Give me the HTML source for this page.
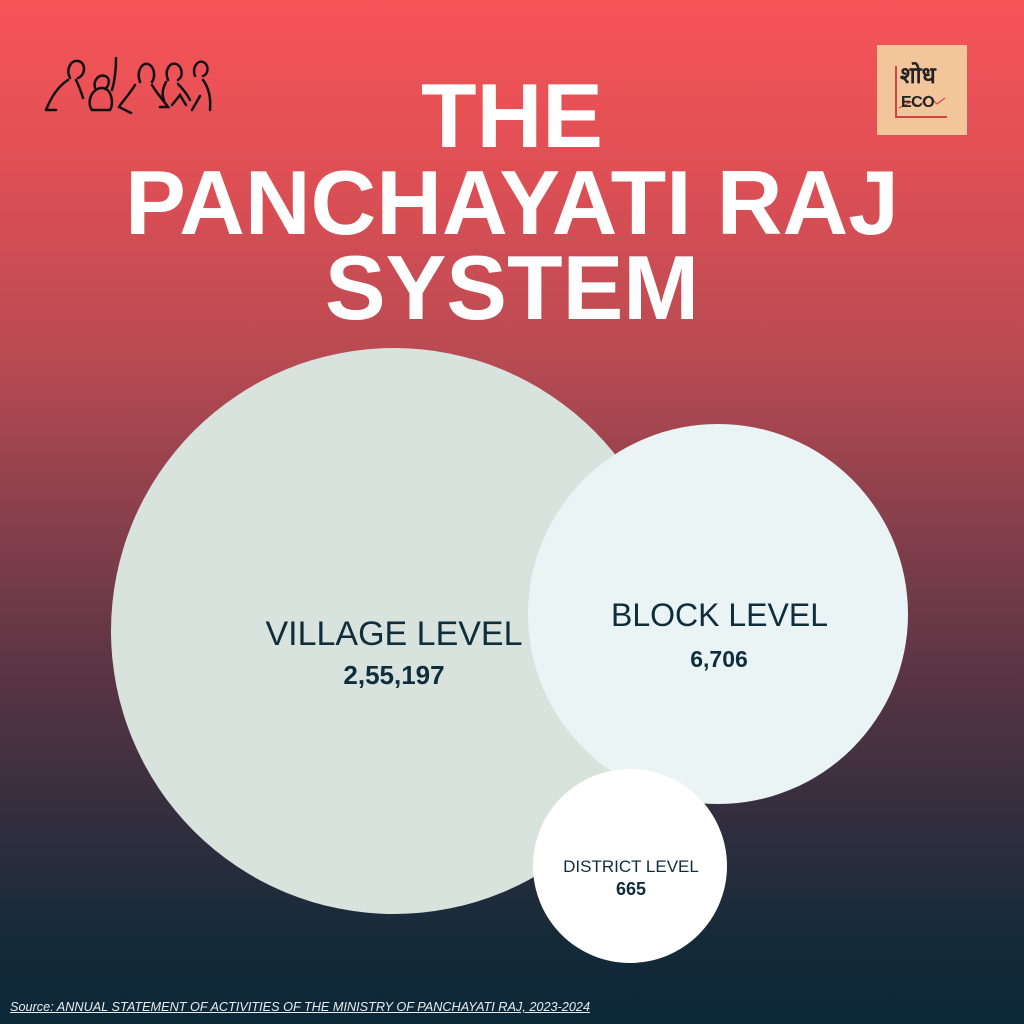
<!DOCTYPE html>
<html><head><meta charset="utf-8"><style>
html,body{margin:0;padding:0}
body{width:1024px;height:1024px;position:relative;overflow:hidden;font-family:"Liberation Sans",sans-serif;
background:linear-gradient(180deg,#f75458 0%,#dc4f55 18%,#b94a52 35%,#8a404c 50%,#5c3544 65%,#322e3e 80%,#142a38 92%,#0c2838 100%);}
.t{position:absolute;left:0;width:1024px;text-align:center;color:#fff;font-weight:bold;font-size:91px;line-height:1;letter-spacing:0}
.c{position:absolute;border-radius:50%}
.l{position:absolute;text-align:center;color:#0f2d3a;white-space:nowrap}
</style></head><body>
<div class="t" style="top:71px">THE</div>
<div class="t" style="top:158px">PANCHAYATI RAJ</div>
<div class="t" style="top:243px">SYSTEM</div>

<div style="position:absolute;left:877px;top:45px;width:90px;height:90px;background:#f3c59b"></div>
<div style="position:absolute;left:895px;top:66px;width:2px;height:51px;background:#c44"></div>
<div style="position:absolute;left:895px;top:116px;width:52px;height:2px;background:#c44"></div>
<svg style="position:absolute;left:897px;top:92px" width="50" height="20"><path d="M2 16 L14 10 L22 14 L32 4 L40 12 L48 6" stroke="#d44" stroke-width="1.2" fill="none"/></svg>
<div style="position:absolute;left:900px;top:60px;font-family:'Noto Sans CJK SC',sans-serif;font-size:23px;color:#222;font-weight:bold;line-height:1.2">शोध</div>
<div style="position:absolute;left:901px;top:94px;font-size:16px;color:#222;font-weight:bold;letter-spacing:-0.5px">ECO</div>

<svg style="position:absolute;left:40px;top:50px" width="180" height="70" viewBox="0 0 180 70" fill="none" stroke="#111" stroke-width="2.5" stroke-linecap="round">
<path d="M30 28c-4-8 0-18 8-17s8 14 0 17"/><path d="M28 30c-8 5-16 15-22 30M6 60h10M36 30c4 8 6 15 7 18"/>
<path d="M52 60c-6-8 0-22 10-22s12 16 8 22z M55 38c-2-8 4-14 10-12s4 10 0 13"/><path d="M72 40c3-10 4-22 4-32"/>
<path d="M100 32c-4-10 2-20 8-18s8 12 4 18"/><path d="M95 35c-6 10-14 18-16 22l12 6M112 35c6 10 12 16 16 22h-8"/>
<path d="M128 30c-4-10 2-18 8-16s8 12 2 16"/><path d="M126 32c-4 8-4 14-2 18M138 34c6 6 10 12 12 16M132 55l8-10 6 10"/>
<path d="M155 26c-3-8 2-16 8-14s6 12 0 14"/><path d="M163 30c6 8 8 18 7 30M152 60l8-14"/>
</svg>

<div class="c" style="left:111px;top:348px;width:566px;height:566px;background:#d8e3de"></div>
<div class="c" style="left:528px;top:424px;width:380px;height:380px;background:#eaf4f5"></div>
<div class="c" style="left:533px;top:769px;width:194px;height:194px;background:#fff"></div>

<div class="l" style="left:263px;top:615px;font-size:34px;width:262px">VILLAGE LEVEL</div>
<div class="l" style="left:263px;top:660px;font-size:26px;font-weight:bold;width:262px">2,55,197</div>
<div class="l" style="left:611px;top:597px;font-size:32px;width:216px">BLOCK LEVEL</div>
<div class="l" style="left:611px;top:646px;font-size:23px;font-weight:bold;width:216px">6,706</div>
<div class="l" style="left:560px;top:857px;font-size:17px;width:142px">DISTRICT LEVEL</div>
<div class="l" style="left:560px;top:879px;font-size:18px;font-weight:bold;width:142px">665</div>

<div style="position:absolute;left:10px;top:1000px;font-size:12.7px;font-style:italic;text-decoration:underline;color:#e8eef0">Source: ANNUAL STATEMENT OF ACTIVITIES OF THE MINISTRY OF PANCHAYATI RAJ, 2023-2024</div>
</body></html>
